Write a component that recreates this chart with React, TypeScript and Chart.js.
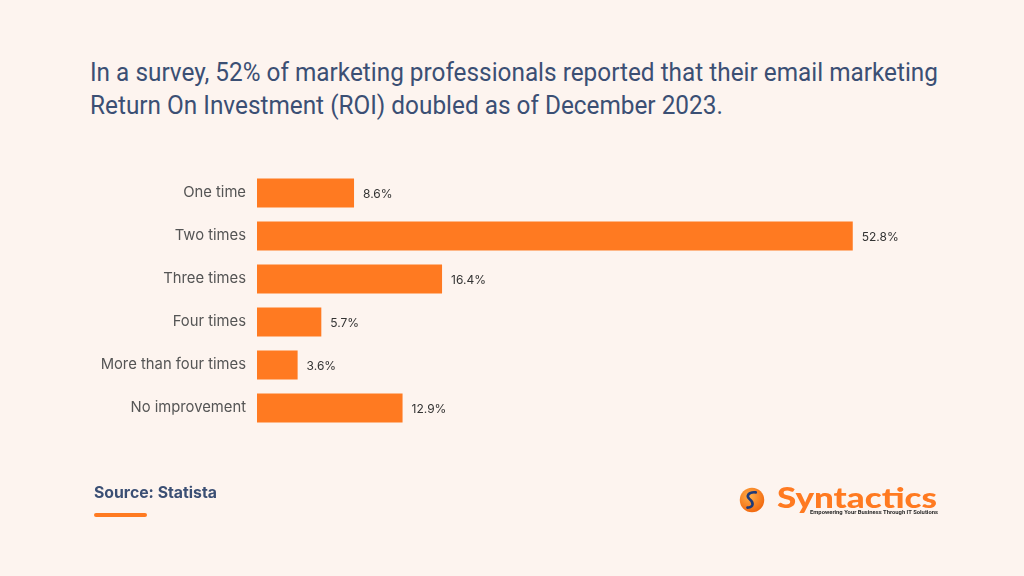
import React, { useEffect, useRef } from "react";
import { Chart, registerables } from "chart.js";

Chart.register(...registerables);

const categories = [
  "One time",
  "Two times",
  "Three times",
  "Four times",
  "More than four times",
  "No improvement",
];
const values = [8.6, 52.8, 16.4, 5.7, 3.6, 12.9];
const valueLabels = ["8.6%", "52.8%", "16.4%", "5.7%", "3.6%", "12.9%"];
const titleLines = [
  "In a survey, 52% of marketing professionals reported that their email marketing",
  "Return On Investment (ROI) doubled as of December 2023.",
];
const sourceText = "Source: Statista";
const brandName = "Syntactics";
const brandTagline = "Empowering Your Business Through IT Solutions";

const BG = "#FDF4EF";
const ORANGE = "#FF7A21";
const NAVY = "#3B4F74";

const barLabels = {
  id: "barLabels",
  afterDatasetsDraw(chart: any) {
    const ctx = chart.ctx;
    const meta = chart.getDatasetMeta(0);
    ctx.save();
    ctx.font = "12px Inter";
    ctx.fillStyle = "#333333";
    ctx.textBaseline = "middle";
    ctx.textAlign = "left";
    meta.data.forEach((el: any, i: number) => {
      ctx.fillText(valueLabels[i], el.x + 9, el.y + 1);
    });
    ctx.restore();
  },
};

function fitWidth(el: HTMLElement | null, target: number) {
  if (!el) return;
  const span = el.querySelector("span") as HTMLSpanElement;
  const w = span.getBoundingClientRect().width;
  el.style.transform = `scaleX(${target / w})`;
}

export default function App() {
  const canvasRef = useRef<HTMLCanvasElement | null>(null);
  const titleRef = useRef<HTMLDivElement | null>(null);
  const brandRef = useRef<HTMLDivElement | null>(null);
  const tagRef = useRef<HTMLDivElement | null>(null);

  useEffect(() => {
    fitWidth(titleRef.current, 848);
    fitWidth(brandRef.current, 160);
    fitWidth(tagRef.current, 128);
    const chart = new Chart(canvasRef.current!, {
      type: "bar",
      data: {
        labels: categories,
        datasets: [
          {
            data: values,
            backgroundColor: ORANGE,
            borderWidth: 0,
            barPercentage: 0.68,
            categoryPercentage: 1,
          },
        ],
      },
      options: {
        indexAxis: "y",
        animation: false,
        responsive: false,
        maintainAspectRatio: false,
        layout: { padding: { left: 0, right: 90, top: 171.5, bottom: 146.5 } },
        plugins: { legend: { display: false }, tooltip: { enabled: false } },
        scales: {
          x: { display: false, min: 0, max: 60 },
          y: {
            grid: { display: false, drawTicks: false },
            border: { display: false },
            ticks: {
              color: "#555555",
              font: { family: "Inter", size: 14.8 },
              padding: 11,
            },
            afterFit: (s: any) => {
              s.width = 257;
            },
          },
        },
      },
      plugins: [barLabels],
    });
    return () => chart.destroy();
  }, []);

  return (
    <div
      style={{
        position: "fixed",
        left: 0,
        top: 0,
        width: 1024,
        height: 576,
        background: BG,
        overflow: "hidden",
        fontFamily: "Inter, sans-serif",
      }}
    >
      <div
        ref={titleRef}
        style={{
          position: "absolute",
          left: 90,
          top: 56,
          fontFamily: "Roboto",
          fontSize: 25,
          lineHeight: "33px",
          color: NAVY,
          whiteSpace: "nowrap",
          transformOrigin: "left top",
        }}
      >
        {titleLines.map((l, i) => (
          <div key={i}>
            <span>{l}</span>
          </div>
        ))}
      </div>
      <canvas
        ref={canvasRef}
        width={1024}
        height={576}
        style={{ position: "absolute", left: 0, top: 0 }}
      />
      <div
        style={{
          position: "absolute",
          left: 94,
          top: 483,
          fontFamily: "Inter",
          fontWeight: 700,
          fontSize: 15.8,
          color: NAVY,
        }}
      >
        {sourceText}
      </div>
      <div
        style={{
          position: "absolute",
          left: 94,
          top: 513,
          width: 53,
          height: 4,
          borderRadius: 2,
          background: ORANGE,
        }}
      />
      <svg
        width={26}
        height={26}
        viewBox="0 0 34 34"
        style={{ position: "absolute", left: 739, top: 487 }}
      >
        <defs>
          <radialGradient id="lg" cx="40%" cy="35%" r="65%">
            <stop offset="0%" stopColor="#FFB04A" />
            <stop offset="100%" stopColor="#F26A10" />
          </radialGradient>
        </defs>
        <circle cx={17} cy={17} r={16} fill="url(#lg)" />
        <path
          d="M22 7 C12 6, 9 12, 14 16 C19 20, 20 26, 11 27"
          stroke="#1F3A78"
          strokeWidth={3.4}
          fill="none"
          strokeLinecap="round"
        />
      </svg>
      <div
        ref={brandRef}
        style={{
          position: "absolute",
          left: 777,
          top: 480,
          fontFamily: "Lato",
          fontWeight: 900,
          fontSize: 29,
          lineHeight: "34px",
          color: ORANGE,
          whiteSpace: "nowrap",
          transformOrigin: "left top",
        }}
      >
        <span>{brandName}</span>
      </div>
      <div
        ref={tagRef}
        style={{
          position: "absolute",
          left: 810,
          top: 508,
          fontFamily: "Roboto",
          fontWeight: 700,
          fontSize: 6,
          lineHeight: "8px",
          color: "#2a2a2a",
          whiteSpace: "nowrap",
          transformOrigin: "left top",
        }}
      >
        <span>{brandTagline}</span>
      </div>
    </div>
  );
}
